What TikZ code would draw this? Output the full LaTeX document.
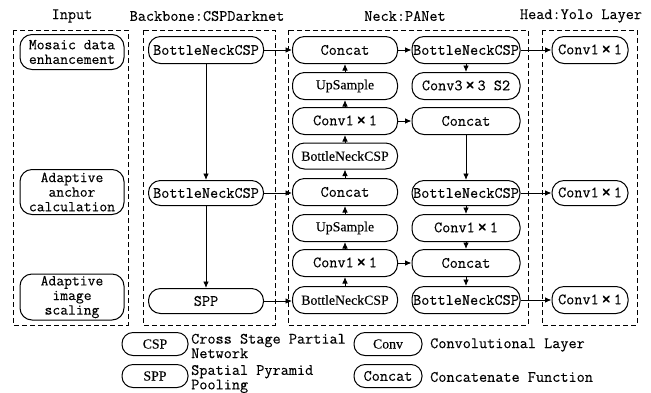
\documentclass[tikz,border=0pt]{standalone}
\usepackage{fontspec}
\newfontfamily\serifx{Liberation Serif}[FakeBold=0.2]
\newfontfamily\mono{Latin Modern Mono}[FakeBold=0.2]
\usetikzlibrary{arrows.meta}
\newcommand{\tms}{\makebox[15pt]{\raisebox{-1.3pt}{\scalebox{1.35}{×}}}}
\newcommand{\fnt}{\fontsize{15.8}{13.5}\selectfont\mono}
\begin{document}
\begin{tikzpicture}[x=1pt,y=-1pt,
  blk/.style={draw, line width=1pt, rounded corners=12pt, minimum height=27pt, inner sep=0pt, align=center, font=\fnt},
  iblk/.style={blk, font=\fontsize{15.2}{14.6}\selectfont\mono},
  sblk/.style={blk, font=\fontsize{13.8}{13}\selectfont\serifx},
  arr/.style={-{Latex[length=6.5pt,width=5.5pt]}, line width=0.9pt},
  frame/.style={draw, line width=0.9pt, dash pattern=on 5pt off 3pt},
  hdr/.style={font=\fnt, inner sep=0pt},
  lab/.style={font=\fontsize{15.8}{14.5}\selectfont\mono, inner sep=0pt, align=left, anchor=west}]
\useasboundingbox (0,0) rectangle (651,392);
% headers
\node[hdr] (hin) at (72,16) {Input};
\node[hdr] (hbb) at (207,16) {Backbone:CSPDarknet};
\node[hdr] (hnk) at (405,16) {Neck:PANet};
\node[hdr] (hhd) at (581,16) {Head:Yolo Layer};
% frames
\draw[frame] (13,30) rectangle (128,325);
\draw[frame] (143,30) rectangle (275,325);
\draw[frame] (288,30) rectangle (528,325);
\draw[frame] (542,30) rectangle (637,325);
% input
\node[iblk, minimum width=104pt, minimum height=35pt] (in1) at (72,52) {Mosaic data\\enhancement};
\node[iblk, minimum width=104pt, minimum height=45pt] (in2) at (72,192) {Adaptive\\anchor\\calculation};
\node[iblk, minimum width=104pt, minimum height=46pt] (in3) at (72,297) {Adaptive\\image\\scaling};
% backbone
\node[blk, minimum width=115pt] (b1) at (206,50) {BottleNeckCSP};
\node[blk, minimum width=115pt, minimum height=25pt] (b2) at (206,193) {BottleNeckCSP};
\node[blk, minimum width=115pt, minimum height=25pt] (b3) at (206,301) {SPP};
% neck left
\node[blk, minimum width=105pt] (n1) at (345,50) {Concat};
\node[sblk, minimum width=105pt] (n2) at (345,86) {UpSample};
\node[blk, minimum width=105pt] (n3) at (345,121) {Conv1\tms1};
\node[sblk, minimum width=105pt, minimum height=26pt] (n4) at (345,156) {BottleNeckCSP};
\node[blk, minimum width=105pt] (n5) at (345,192) {Concat};
\node[sblk, minimum width=105pt] (n6) at (345,228) {UpSample};
\node[blk, minimum width=105pt] (n7) at (345,263) {Conv1\tms1};
\node[sblk, minimum width=105pt] (n8) at (345,300) {BottleNeckCSP};
% neck right
\node[blk, minimum width=108pt] (r1) at (466,50) {BottleNeckCSP};
\node[blk, minimum width=108pt] (r2) at (466,86) {Conv3\tms3 S2};
\node[blk, minimum width=108pt] (r3) at (466,121) {Concat};
\node[blk, minimum width=108pt, minimum height=25pt] (r4) at (466,193) {BottleNeckCSP};
\node[blk, minimum width=108pt] (r5) at (466,228) {Conv1\tms1};
\node[blk, minimum width=108pt] (r6) at (466,263) {Concat};
\node[blk, minimum width=108pt] (r7) at (466,300) {BottleNeckCSP};
% head
\node[blk, minimum width=76pt] (h1) at (590,50) {Conv1\tms1};
\node[blk, minimum width=76pt, minimum height=25pt] (h2) at (590,193) {Conv1\tms1};
\node[blk, minimum width=76pt] (h3) at (590,300) {Conv1\tms1};
% arrows backbone
\draw[arr] (b1) -- (b2);
\draw[arr] (b2) -- (b3);
\draw[arr] (b1) -- (n1);
\draw[arr] (b2.east) -- (n5.west|-b2.east);
\draw[arr] (b3.east) -- (n8.west|-b3.east);
% neck left upward
\draw[arr] (n8) -- (n7);
\draw[arr] (n7) -- (n6);
\draw[arr] (n6) -- (n5);
\draw[arr] (n5) -- (n4);
\draw[arr] (n4) -- (n3);
\draw[arr] (n3) -- (n2);
\draw[arr] (n2) -- (n1);
% neck cross
\draw[arr] (n1) -- (r1);
\draw[arr] (n3) -- (r3);
\draw[arr] (n7) -- (r6);
% neck right downward
\draw[arr] (r1) -- (r2);
\draw[arr] (r3) -- (r4);
\draw[arr] (r4) -- (r5);
\draw[arr] (r5) -- (r6);
\draw[arr] (r6) -- (r7);
% to head
\draw[arr] (r1) -- (h1);
\draw[arr] (r4) -- (h2);
\draw[arr] (r7) -- (h3);
% legend
\node[sblk, minimum width=66pt, minimum height=23pt, rounded corners=11pt] (lg1) at (155,344) {CSP};
\node[lab] (lt1) at (191,346) {Cross Stage Partial\\Network};
\node[sblk, minimum width=66pt, minimum height=23pt, rounded corners=11pt] (lg2) at (155,376) {SPP};
\node[lab] (lt2) at (191,379) {Spatial Pyramid\\Pooling};
\node[sblk, minimum width=68pt, minimum height=23pt, rounded corners=11pt] (lg3) at (388,344) {Conv};
\node[lab] (lt3) at (430,345) {Convolutional Layer};
\node[blk, minimum width=68pt, minimum height=23pt, rounded corners=11pt] (lg4) at (388,376) {Concat};
\node[lab] (lt4) at (430,377) {Concatenate Function};
\end{tikzpicture}
\end{document}
